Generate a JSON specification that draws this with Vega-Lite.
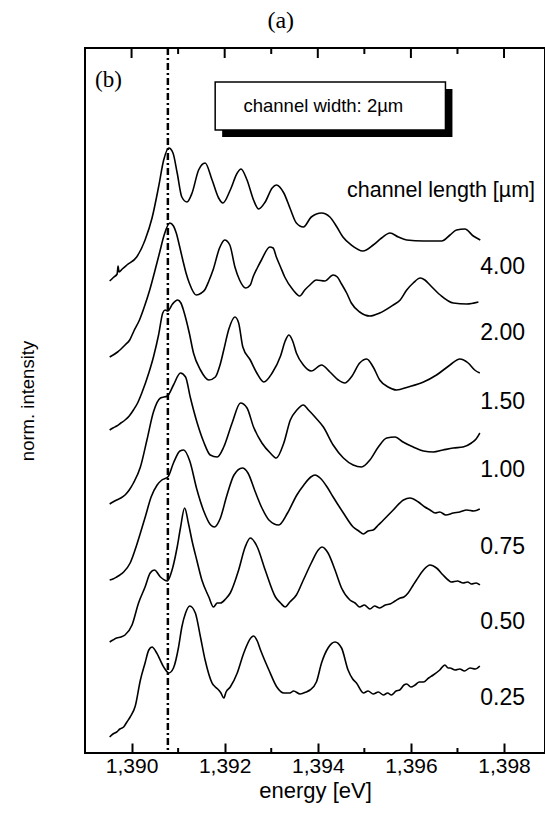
{
"$schema": "https://vega.github.io/schema/vega-lite/v6.json",
"width": 460, "height": 705,
"autosize": {"type": "none"},
"padding": {"left": 85, "top": 48, "right": 0, "bottom": 69},
"config": {"view": {"stroke": "black", "strokeWidth": 2}, "font": "Liberation Sans", "axis": {"grid": false}},
"resolve": {"scale": {"x": "independent"}, "axis": {"x": "independent", "y": "independent"}},
"datasets": {
"one": [{}],
"majorTicks": [{"energy": 1390}, {"energy": 1392}, {"energy": 1394}, {"energy": 1396}, {"energy": 1398}],
"minorTicks": [{"energy": 1391}, {"energy": 1393}, {"energy": 1395}, {"energy": 1397}],
"labels": [
{"label": "4.00", "intensity": 486},
{"label": "2.00", "intensity": 420},
{"label": "1.50", "intensity": 351},
{"label": "1.00", "intensity": 283},
{"label": "0.75", "intensity": 206},
{"label": "0.50", "intensity": 131},
{"label": "0.25", "intensity": 55}
],
"spectra": [
{"length":"4.00","energy":1389.53,"intensity":472},
{"length":"4.00","energy":1389.62,"intensity":476},
{"length":"4.00","energy":1389.69,"intensity":479},
{"length":"4.00","energy":1389.71,"intensity":487},
{"length":"4.00","energy":1389.73,"intensity":481},
{"length":"4.00","energy":1389.80,"intensity":484},
{"length":"4.00","energy":1389.90,"intensity":488},
{"length":"4.00","energy":1390.11,"intensity":496},
{"length":"4.00","energy":1390.29,"intensity":513},
{"length":"4.00","energy":1390.44,"intensity":535},
{"length":"4.00","energy":1390.58,"intensity":566},
{"length":"4.00","energy":1390.69,"intensity":593},
{"length":"4.00","energy":1390.80,"intensity":605},
{"length":"4.00","energy":1390.89,"intensity":600},
{"length":"4.00","energy":1390.98,"intensity":580},
{"length":"4.00","energy":1391.08,"intensity":556},
{"length":"4.00","energy":1391.19,"intensity":551},
{"length":"4.00","energy":1391.30,"intensity":560},
{"length":"4.00","energy":1391.44,"intensity":583},
{"length":"4.00","energy":1391.58,"intensity":590},
{"length":"4.00","energy":1391.73,"intensity":573},
{"length":"4.00","energy":1391.87,"intensity":555},
{"length":"4.00","energy":1391.96,"intensity":550},
{"length":"4.00","energy":1392.12,"intensity":563},
{"length":"4.00","energy":1392.27,"intensity":580},
{"length":"4.00","energy":1392.35,"intensity":584},
{"length":"4.00","energy":1392.48,"intensity":573},
{"length":"4.00","energy":1392.62,"intensity":553},
{"length":"4.00","energy":1392.73,"intensity":544},
{"length":"4.00","energy":1392.87,"intensity":551},
{"length":"4.00","energy":1393.02,"intensity":565},
{"length":"4.00","energy":1393.11,"intensity":568},
{"length":"4.00","energy":1393.27,"intensity":560},
{"length":"4.00","energy":1393.41,"intensity":544},
{"length":"4.00","energy":1393.54,"intensity":530},
{"length":"4.00","energy":1393.69,"intensity":526},
{"length":"4.00","energy":1393.86,"intensity":536},
{"length":"4.00","energy":1394.08,"intensity":540},
{"length":"4.00","energy":1394.26,"intensity":536},
{"length":"4.00","energy":1394.41,"intensity":526},
{"length":"4.00","energy":1394.54,"intensity":516},
{"length":"4.00","energy":1394.72,"intensity":508},
{"length":"4.00","energy":1394.97,"intensity":502},
{"length":"4.00","energy":1395.19,"intensity":508},
{"length":"4.00","energy":1395.37,"intensity":515},
{"length":"4.00","energy":1395.55,"intensity":520},
{"length":"4.00","energy":1395.73,"intensity":516},
{"length":"4.00","energy":1395.91,"intensity":513},
{"length":"4.00","energy":1396.27,"intensity":512},
{"length":"4.00","energy":1396.66,"intensity":512},
{"length":"4.00","energy":1396.84,"intensity":518},
{"length":"4.00","energy":1396.98,"intensity":523},
{"length":"4.00","energy":1397.16,"intensity":524},
{"length":"4.00","energy":1397.34,"intensity":517},
{"length":"4.00","energy":1397.49,"intensity":513},
{"length":"2.00","energy":1389.53,"intensity":396},
{"length":"2.00","energy":1389.70,"intensity":401},
{"length":"2.00","energy":1389.86,"intensity":408},
{"length":"2.00","energy":1389.96,"intensity":413},
{"length":"2.00","energy":1390.05,"intensity":422},
{"length":"2.00","energy":1390.17,"intensity":433},
{"length":"2.00","energy":1390.28,"intensity":447},
{"length":"2.00","energy":1390.39,"intensity":463},
{"length":"2.00","energy":1390.50,"intensity":482},
{"length":"2.00","energy":1390.60,"intensity":500},
{"length":"2.00","energy":1390.70,"intensity":518},
{"length":"2.00","energy":1390.82,"intensity":530},
{"length":"2.00","energy":1390.90,"intensity":527},
{"length":"2.00","energy":1390.96,"intensity":520},
{"length":"2.00","energy":1391.03,"intensity":507},
{"length":"2.00","energy":1391.10,"intensity":493},
{"length":"2.00","energy":1391.17,"intensity":480},
{"length":"2.00","energy":1391.24,"intensity":470},
{"length":"2.00","energy":1391.39,"intensity":458},
{"length":"2.00","energy":1391.50,"intensity":460},
{"length":"2.00","energy":1391.57,"intensity":463},
{"length":"2.00","energy":1391.66,"intensity":472},
{"length":"2.00","energy":1391.75,"intensity":483},
{"length":"2.00","energy":1391.89,"intensity":505},
{"length":"2.00","energy":1392.00,"intensity":513},
{"length":"2.00","energy":1392.11,"intensity":508},
{"length":"2.00","energy":1392.22,"intensity":486},
{"length":"2.00","energy":1392.32,"intensity":473},
{"length":"2.00","energy":1392.45,"intensity":465},
{"length":"2.00","energy":1392.55,"intensity":468},
{"length":"2.00","energy":1392.61,"intensity":476},
{"length":"2.00","energy":1392.70,"intensity":485},
{"length":"2.00","energy":1392.79,"intensity":493},
{"length":"2.00","energy":1392.97,"intensity":506},
{"length":"2.00","energy":1393.04,"intensity":505},
{"length":"2.00","energy":1393.11,"intensity":496},
{"length":"2.00","energy":1393.20,"intensity":486},
{"length":"2.00","energy":1393.29,"intensity":476},
{"length":"2.00","energy":1393.47,"intensity":463},
{"length":"2.00","energy":1393.61,"intensity":457},
{"length":"2.00","energy":1393.72,"intensity":463},
{"length":"2.00","energy":1393.83,"intensity":468},
{"length":"2.00","energy":1393.97,"intensity":473},
{"length":"2.00","energy":1394.15,"intensity":472},
{"length":"2.00","energy":1394.33,"intensity":478},
{"length":"2.00","energy":1394.42,"intensity":476},
{"length":"2.00","energy":1394.51,"intensity":469},
{"length":"2.00","energy":1394.62,"intensity":460},
{"length":"2.00","energy":1394.72,"intensity":450},
{"length":"2.00","energy":1394.90,"intensity":441},
{"length":"2.00","energy":1395.12,"intensity":437},
{"length":"2.00","energy":1395.33,"intensity":440},
{"length":"2.00","energy":1395.62,"intensity":448},
{"length":"2.00","energy":1395.77,"intensity":453},
{"length":"2.00","energy":1395.91,"intensity":463},
{"length":"2.00","energy":1396.05,"intensity":470},
{"length":"2.00","energy":1396.20,"intensity":475},
{"length":"2.00","energy":1396.30,"intensity":473},
{"length":"2.00","energy":1396.41,"intensity":468},
{"length":"2.00","energy":1396.63,"intensity":458},
{"length":"2.00","energy":1396.91,"intensity":450},
{"length":"2.00","energy":1397.20,"intensity":449},
{"length":"2.00","energy":1397.45,"intensity":451},
{"length":"1.50","energy":1389.53,"intensity":323},
{"length":"1.50","energy":1389.60,"intensity":325},
{"length":"1.50","energy":1389.68,"intensity":327},
{"length":"1.50","energy":1389.77,"intensity":330},
{"length":"1.50","energy":1389.86,"intensity":333},
{"length":"1.50","energy":1389.95,"intensity":337},
{"length":"1.50","energy":1390.04,"intensity":343},
{"length":"1.50","energy":1390.13,"intensity":350},
{"length":"1.50","energy":1390.22,"intensity":360},
{"length":"1.50","energy":1390.37,"intensity":380},
{"length":"1.50","energy":1390.47,"intensity":396},
{"length":"1.50","energy":1390.58,"intensity":418},
{"length":"1.50","energy":1390.67,"intensity":440},
{"length":"1.50","energy":1390.72,"intensity":443},
{"length":"1.50","energy":1390.78,"intensity":442},
{"length":"1.50","energy":1390.88,"intensity":449},
{"length":"1.50","energy":1390.99,"intensity":453},
{"length":"1.50","energy":1391.06,"intensity":450},
{"length":"1.50","energy":1391.12,"intensity":442},
{"length":"1.50","energy":1391.24,"intensity":420},
{"length":"1.50","energy":1391.33,"intensity":400},
{"length":"1.50","energy":1391.48,"intensity":383},
{"length":"1.50","energy":1391.66,"intensity":373},
{"length":"1.50","energy":1391.80,"intensity":376},
{"length":"1.50","energy":1391.90,"intensity":388},
{"length":"1.50","energy":1391.98,"intensity":403},
{"length":"1.50","energy":1392.09,"intensity":424},
{"length":"1.50","energy":1392.22,"intensity":436},
{"length":"1.50","energy":1392.30,"intensity":430},
{"length":"1.50","energy":1392.39,"intensity":406},
{"length":"1.50","energy":1392.55,"intensity":393},
{"length":"1.50","energy":1392.69,"intensity":380},
{"length":"1.50","energy":1392.84,"intensity":371},
{"length":"1.50","energy":1393.02,"intensity":380},
{"length":"1.50","energy":1393.20,"intensity":397},
{"length":"1.50","energy":1393.30,"intensity":412},
{"length":"1.50","energy":1393.38,"intensity":418},
{"length":"1.50","energy":1393.46,"intensity":412},
{"length":"1.50","energy":1393.54,"intensity":400},
{"length":"1.50","energy":1393.69,"intensity":388},
{"length":"1.50","energy":1393.86,"intensity":382},
{"length":"1.50","energy":1394.08,"intensity":388},
{"length":"1.50","energy":1394.26,"intensity":381},
{"length":"1.50","energy":1394.44,"intensity":373},
{"length":"1.50","energy":1394.58,"intensity":370},
{"length":"1.50","energy":1394.72,"intensity":376},
{"length":"1.50","energy":1394.90,"intensity":390},
{"length":"1.50","energy":1395.05,"intensity":394},
{"length":"1.50","energy":1395.19,"intensity":386},
{"length":"1.50","energy":1395.33,"intensity":373},
{"length":"1.50","energy":1395.51,"intensity":366},
{"length":"1.50","energy":1395.69,"intensity":363},
{"length":"1.50","energy":1395.94,"intensity":366},
{"length":"1.50","energy":1396.27,"intensity":371},
{"length":"1.50","energy":1396.55,"intensity":378},
{"length":"1.50","energy":1396.84,"intensity":388},
{"length":"1.50","energy":1397.05,"intensity":394},
{"length":"1.50","energy":1397.23,"intensity":390},
{"length":"1.50","energy":1397.37,"intensity":383},
{"length":"1.50","energy":1397.48,"intensity":380},
{"length":"1.00","energy":1389.53,"intensity":249},
{"length":"1.00","energy":1389.60,"intensity":251},
{"length":"1.00","energy":1389.68,"intensity":253},
{"length":"1.00","energy":1389.77,"intensity":255},
{"length":"1.00","energy":1389.86,"intensity":258},
{"length":"1.00","energy":1389.95,"intensity":263},
{"length":"1.00","energy":1390.04,"intensity":270},
{"length":"1.00","energy":1390.19,"intensity":286},
{"length":"1.00","energy":1390.33,"intensity":313},
{"length":"1.00","energy":1390.47,"intensity":341},
{"length":"1.00","energy":1390.62,"intensity":355},
{"length":"1.00","energy":1390.77,"intensity":357},
{"length":"1.00","energy":1390.90,"intensity":368},
{"length":"1.00","energy":1391.05,"intensity":380},
{"length":"1.00","energy":1391.16,"intensity":376},
{"length":"1.00","energy":1391.26,"intensity":356},
{"length":"1.00","energy":1391.41,"intensity":330},
{"length":"1.00","energy":1391.55,"intensity":311},
{"length":"1.00","energy":1391.69,"intensity":298},
{"length":"1.00","energy":1391.84,"intensity":296},
{"length":"1.00","energy":1391.98,"intensity":306},
{"length":"1.00","energy":1392.16,"intensity":330},
{"length":"1.00","energy":1392.34,"intensity":350},
{"length":"1.00","energy":1392.48,"intensity":345},
{"length":"1.00","energy":1392.62,"intensity":326},
{"length":"1.00","energy":1392.80,"intensity":310},
{"length":"1.00","energy":1392.98,"intensity":300},
{"length":"1.00","energy":1393.11,"intensity":295},
{"length":"1.00","energy":1393.27,"intensity":310},
{"length":"1.00","energy":1393.41,"intensity":333},
{"length":"1.00","energy":1393.55,"intensity":343},
{"length":"1.00","energy":1393.69,"intensity":348},
{"length":"1.00","energy":1393.80,"intensity":343},
{"length":"1.00","energy":1393.94,"intensity":336},
{"length":"1.00","energy":1394.12,"intensity":326},
{"length":"1.00","energy":1394.33,"intensity":308},
{"length":"1.00","energy":1394.55,"intensity":295},
{"length":"1.00","energy":1394.76,"intensity":288},
{"length":"1.00","energy":1394.94,"intensity":286},
{"length":"1.00","energy":1395.12,"intensity":293},
{"length":"1.00","energy":1395.30,"intensity":306},
{"length":"1.00","energy":1395.48,"intensity":315},
{"length":"1.00","energy":1395.66,"intensity":316},
{"length":"1.00","energy":1395.83,"intensity":311},
{"length":"1.00","energy":1396.05,"intensity":306},
{"length":"1.00","energy":1396.27,"intensity":302},
{"length":"1.00","energy":1396.48,"intensity":301},
{"length":"1.00","energy":1396.69,"intensity":303},
{"length":"1.00","energy":1396.91,"intensity":305},
{"length":"1.00","energy":1397.12,"intensity":306},
{"length":"1.00","energy":1397.30,"intensity":310},
{"length":"1.00","energy":1397.40,"intensity":314},
{"length":"1.00","energy":1397.48,"intensity":320},
{"length":"0.75","energy":1389.53,"intensity":173},
{"length":"0.75","energy":1389.60,"intensity":174},
{"length":"0.75","energy":1389.68,"intensity":176},
{"length":"0.75","energy":1389.75,"intensity":178},
{"length":"0.75","energy":1389.83,"intensity":181},
{"length":"0.75","energy":1389.97,"intensity":190},
{"length":"0.75","energy":1390.11,"intensity":208},
{"length":"0.75","energy":1390.19,"intensity":220},
{"length":"0.75","energy":1390.30,"intensity":237},
{"length":"0.75","energy":1390.42,"intensity":256},
{"length":"0.75","energy":1390.55,"intensity":268},
{"length":"0.75","energy":1390.65,"intensity":273},
{"length":"0.75","energy":1390.78,"intensity":276},
{"length":"0.75","energy":1390.90,"intensity":290},
{"length":"0.75","energy":1391.04,"intensity":302},
{"length":"0.75","energy":1391.12,"intensity":303},
{"length":"0.75","energy":1391.25,"intensity":292},
{"length":"0.75","energy":1391.40,"intensity":264},
{"length":"0.75","energy":1391.55,"intensity":242},
{"length":"0.75","energy":1391.70,"intensity":228},
{"length":"0.75","energy":1391.78,"intensity":226},
{"length":"0.75","energy":1391.90,"intensity":234},
{"length":"0.75","energy":1392.05,"intensity":258},
{"length":"0.75","energy":1392.20,"intensity":278},
{"length":"0.75","energy":1392.38,"intensity":285},
{"length":"0.75","energy":1392.50,"intensity":280},
{"length":"0.75","energy":1392.65,"intensity":262},
{"length":"0.75","energy":1392.80,"intensity":245},
{"length":"0.75","energy":1392.95,"intensity":233},
{"length":"0.75","energy":1393.16,"intensity":228},
{"length":"0.75","energy":1393.35,"intensity":240},
{"length":"0.75","energy":1393.55,"intensity":258},
{"length":"0.75","energy":1393.70,"intensity":268},
{"length":"0.75","energy":1393.85,"intensity":276},
{"length":"0.75","energy":1393.94,"intensity":278},
{"length":"0.75","energy":1394.05,"intensity":275},
{"length":"0.75","energy":1394.20,"intensity":266},
{"length":"0.75","energy":1394.33,"intensity":256},
{"length":"0.75","energy":1394.55,"intensity":240},
{"length":"0.75","energy":1394.76,"intensity":226},
{"length":"0.75","energy":1394.88,"intensity":222},
{"length":"0.75","energy":1394.98,"intensity":219},
{"length":"0.75","energy":1395.08,"intensity":222},
{"length":"0.75","energy":1395.19,"intensity":223},
{"length":"0.75","energy":1395.30,"intensity":228},
{"length":"0.75","energy":1395.41,"intensity":233},
{"length":"0.75","energy":1395.62,"intensity":243},
{"length":"0.75","energy":1395.84,"intensity":253},
{"length":"0.75","energy":1395.98,"intensity":255},
{"length":"0.75","energy":1396.16,"intensity":251},
{"length":"0.75","energy":1396.30,"intensity":246},
{"length":"0.75","energy":1396.41,"intensity":243},
{"length":"0.75","energy":1396.52,"intensity":240},
{"length":"0.75","energy":1396.62,"intensity":241},
{"length":"0.75","energy":1396.75,"intensity":238},
{"length":"0.75","energy":1396.91,"intensity":240},
{"length":"0.75","energy":1397.05,"intensity":241},
{"length":"0.75","energy":1397.20,"intensity":243},
{"length":"0.75","energy":1397.35,"intensity":242},
{"length":"0.75","energy":1397.48,"intensity":244},
{"length":"0.50","energy":1389.53,"intensity":111},
{"length":"0.50","energy":1389.60,"intensity":113},
{"length":"0.50","energy":1389.68,"intensity":115},
{"length":"0.50","energy":1389.77,"intensity":116},
{"length":"0.50","energy":1389.86,"intensity":118},
{"length":"0.50","energy":1390.01,"intensity":128},
{"length":"0.50","energy":1390.15,"intensity":150},
{"length":"0.50","energy":1390.29,"intensity":166},
{"length":"0.50","energy":1390.40,"intensity":180},
{"length":"0.50","energy":1390.49,"intensity":183},
{"length":"0.50","energy":1390.62,"intensity":176},
{"length":"0.50","energy":1390.77,"intensity":172},
{"length":"0.50","energy":1390.87,"intensity":183},
{"length":"0.50","energy":1390.98,"intensity":206},
{"length":"0.50","energy":1391.05,"intensity":225},
{"length":"0.50","energy":1391.14,"intensity":245},
{"length":"0.50","energy":1391.22,"intensity":230},
{"length":"0.50","energy":1391.30,"intensity":212},
{"length":"0.50","energy":1391.40,"intensity":193},
{"length":"0.50","energy":1391.51,"intensity":173},
{"length":"0.50","energy":1391.66,"intensity":156},
{"length":"0.50","energy":1391.76,"intensity":146},
{"length":"0.50","energy":1391.84,"intensity":150},
{"length":"0.50","energy":1391.91,"intensity":150},
{"length":"0.50","energy":1392.02,"intensity":154},
{"length":"0.50","energy":1392.12,"intensity":160},
{"length":"0.50","energy":1392.30,"intensity":183},
{"length":"0.50","energy":1392.44,"intensity":206},
{"length":"0.50","energy":1392.55,"intensity":215},
{"length":"0.50","energy":1392.70,"intensity":206},
{"length":"0.50","energy":1392.87,"intensity":183},
{"length":"0.50","energy":1393.09,"intensity":156},
{"length":"0.50","energy":1393.20,"intensity":150},
{"length":"0.50","energy":1393.30,"intensity":146},
{"length":"0.50","energy":1393.40,"intensity":151},
{"length":"0.50","energy":1393.54,"intensity":158},
{"length":"0.50","energy":1393.69,"intensity":173},
{"length":"0.50","energy":1393.86,"intensity":190},
{"length":"0.50","energy":1394.01,"intensity":203},
{"length":"0.50","energy":1394.09,"intensity":206},
{"length":"0.50","energy":1394.22,"intensity":200},
{"length":"0.50","energy":1394.37,"intensity":183},
{"length":"0.50","energy":1394.51,"intensity":165},
{"length":"0.50","energy":1394.69,"intensity":153},
{"length":"0.50","energy":1394.80,"intensity":150},
{"length":"0.50","energy":1394.90,"intensity":146},
{"length":"0.50","energy":1395.00,"intensity":148},
{"length":"0.50","energy":1395.12,"intensity":144},
{"length":"0.50","energy":1395.22,"intensity":147},
{"length":"0.50","energy":1395.33,"intensity":145},
{"length":"0.50","energy":1395.45,"intensity":148},
{"length":"0.50","energy":1395.55,"intensity":149},
{"length":"0.50","energy":1395.66,"intensity":152},
{"length":"0.50","energy":1395.77,"intensity":155},
{"length":"0.50","energy":1395.85,"intensity":156},
{"length":"0.50","energy":1395.94,"intensity":160},
{"length":"0.50","energy":1396.05,"intensity":168},
{"length":"0.50","energy":1396.12,"intensity":173},
{"length":"0.50","energy":1396.27,"intensity":183},
{"length":"0.50","energy":1396.41,"intensity":188},
{"length":"0.50","energy":1396.55,"intensity":185},
{"length":"0.50","energy":1396.69,"intensity":178},
{"length":"0.50","energy":1396.80,"intensity":173},
{"length":"0.50","energy":1396.87,"intensity":171},
{"length":"0.50","energy":1397.00,"intensity":172},
{"length":"0.50","energy":1397.12,"intensity":170},
{"length":"0.50","energy":1397.22,"intensity":171},
{"length":"0.50","energy":1397.30,"intensity":169},
{"length":"0.50","energy":1397.40,"intensity":170},
{"length":"0.50","energy":1397.48,"intensity":168},
{"length":"0.25","energy":1389.53,"intensity":16},
{"length":"0.25","energy":1389.60,"intensity":19},
{"length":"0.25","energy":1389.68,"intensity":21},
{"length":"0.25","energy":1389.75,"intensity":24},
{"length":"0.25","energy":1389.83,"intensity":26},
{"length":"0.25","energy":1389.90,"intensity":31},
{"length":"0.25","energy":1389.97,"intensity":36},
{"length":"0.25","energy":1390.08,"intensity":47},
{"length":"0.25","energy":1390.19,"intensity":73},
{"length":"0.25","energy":1390.29,"intensity":90},
{"length":"0.25","energy":1390.37,"intensity":103},
{"length":"0.25","energy":1390.44,"intensity":106},
{"length":"0.25","energy":1390.54,"intensity":100},
{"length":"0.25","energy":1390.69,"intensity":86},
{"length":"0.25","energy":1390.80,"intensity":80},
{"length":"0.25","energy":1390.90,"intensity":85},
{"length":"0.25","energy":1391.01,"intensity":106},
{"length":"0.25","energy":1391.08,"intensity":126},
{"length":"0.25","energy":1391.16,"intensity":140},
{"length":"0.25","energy":1391.25,"intensity":147},
{"length":"0.25","energy":1391.37,"intensity":140},
{"length":"0.25","energy":1391.48,"intensity":116},
{"length":"0.25","energy":1391.58,"intensity":93},
{"length":"0.25","energy":1391.73,"intensity":70},
{"length":"0.25","energy":1391.80,"intensity":66},
{"length":"0.25","energy":1391.87,"intensity":63},
{"length":"0.25","energy":1391.92,"intensity":60},
{"length":"0.25","energy":1391.98,"intensity":55},
{"length":"0.25","energy":1392.03,"intensity":61},
{"length":"0.25","energy":1392.12,"intensity":66},
{"length":"0.25","energy":1392.27,"intensity":80},
{"length":"0.25","energy":1392.41,"intensity":100},
{"length":"0.25","energy":1392.56,"intensity":115},
{"length":"0.25","energy":1392.62,"intensity":117},
{"length":"0.25","energy":1392.70,"intensity":112},
{"length":"0.25","energy":1392.77,"intensity":103},
{"length":"0.25","energy":1392.95,"intensity":83},
{"length":"0.25","energy":1393.12,"intensity":66},
{"length":"0.25","energy":1393.27,"intensity":60},
{"length":"0.25","energy":1393.40,"intensity":60},
{"length":"0.25","energy":1393.48,"intensity":62},
{"length":"0.25","energy":1393.62,"intensity":59},
{"length":"0.25","energy":1393.75,"intensity":61},
{"length":"0.25","energy":1393.83,"intensity":63},
{"length":"0.25","energy":1393.97,"intensity":71},
{"length":"0.25","energy":1394.08,"intensity":90},
{"length":"0.25","energy":1394.22,"intensity":105},
{"length":"0.25","energy":1394.37,"intensity":111},
{"length":"0.25","energy":1394.51,"intensity":105},
{"length":"0.25","energy":1394.65,"intensity":83},
{"length":"0.25","energy":1394.75,"intensity":74},
{"length":"0.25","energy":1394.83,"intensity":70},
{"length":"0.25","energy":1394.98,"intensity":60},
{"length":"0.25","energy":1395.08,"intensity":62},
{"length":"0.25","energy":1395.19,"intensity":59},
{"length":"0.25","energy":1395.30,"intensity":61},
{"length":"0.25","energy":1395.41,"intensity":58},
{"length":"0.25","energy":1395.50,"intensity":60},
{"length":"0.25","energy":1395.58,"intensity":58},
{"length":"0.25","energy":1395.68,"intensity":62},
{"length":"0.25","energy":1395.76,"intensity":63},
{"length":"0.25","energy":1395.85,"intensity":68},
{"length":"0.25","energy":1395.91,"intensity":69},
{"length":"0.25","energy":1396.00,"intensity":66},
{"length":"0.25","energy":1396.09,"intensity":68},
{"length":"0.25","energy":1396.18,"intensity":71},
{"length":"0.25","energy":1396.27,"intensity":71},
{"length":"0.25","energy":1396.38,"intensity":75},
{"length":"0.25","energy":1396.48,"intensity":78},
{"length":"0.25","energy":1396.62,"intensity":83},
{"length":"0.25","energy":1396.73,"intensity":88},
{"length":"0.25","energy":1396.80,"intensity":85},
{"length":"0.25","energy":1396.84,"intensity":85},
{"length":"0.25","energy":1396.95,"intensity":83},
{"length":"0.25","energy":1397.05,"intensity":84},
{"length":"0.25","energy":1397.15,"intensity":82},
{"length":"0.25","energy":1397.27,"intensity":85},
{"length":"0.25","energy":1397.38,"intensity":84},
{"length":"0.25","energy":1397.48,"intensity":87}
]
},
"layer": [
{
"resolve": {"axis": {"y": "independent"}},
"layer": [
{
"data": {"name": "spectra"},
"mark": {"type": "line", "color": "black", "strokeWidth": 1.6, "interpolate": "monotone"},
"encoding": {
"x": {"field": "energy", "type": "quantitative", "scale": {"domain": [1389, 1398.88], "nice": false, "zero": false}, "axis": null},
"y": {"field": "intensity", "type": "quantitative", "scale": {"domain": [0, 705], "nice": false, "zero": false},
"axis": {"orient": "left", "title": "norm. intensity", "domain": false, "ticks": false, "labels": false, "grid": false, "titleFont": "Liberation Sans", "titleFontSize": 18.5, "titleFontWeight": "normal", "titleColor": "black", "titlePadding": 58, "titleBaseline": "middle", "titleAngle": -90}},
"detail": {"field": "length"}
}
},
{
"data": {"name": "majorTicks"},
"mark": {"type": "rule", "color": "black", "strokeWidth": 2},
"encoding": {
"x": {"field": "energy", "type": "quantitative", "axis": null},
"y": {"datum": 705, "type": "quantitative", "axis": null},
"y2": {"datum": 695}
}
},
{
"data": {"name": "minorTicks"},
"mark": {"type": "rule", "color": "black", "strokeWidth": 2},
"encoding": {
"x": {"field": "energy", "type": "quantitative", "axis": null},
"y": {"datum": 705, "type": "quantitative", "axis": null},
"y2": {"datum": 699}
}
},
{
"data": {"name": "minorTicks"},
"mark": {"type": "rule", "color": "black", "strokeWidth": 2},
"encoding": {
"x": {"field": "energy", "type": "quantitative", "axis": null},
"y": {"datum": 0, "type": "quantitative", "axis": null},
"y2": {"datum": 5}
}
},
{
"data": {"name": "one"},
"mark": {"type": "rule", "color": "black", "strokeWidth": 2.5, "strokeDash": [7, 3, 2, 3]},
"encoding": {
"x": {"datum": 1390.78, "type": "quantitative", "axis": null}
}
},
{
"data": {"name": "one"},
"mark": {"type": "rect", "fill": "black"},
"encoding": {
"x": {"datum": 1391.946, "type": "quantitative", "axis": null},
"x2": {"datum": 1396.892},
"y": {"datum": 664, "type": "quantitative", "axis": null},
"y2": {"datum": 616}
}
},
{
"data": {"name": "one"},
"mark": {"type": "rect", "fill": "white", "stroke": "black", "strokeWidth": 1.5},
"encoding": {
"x": {"datum": 1391.796, "type": "quantitative", "axis": null},
"x2": {"datum": 1396.742},
"y": {"datum": 671, "type": "quantitative", "axis": null},
"y2": {"datum": 623}
}
},
{
"data": {"name": "one"},
"mark": {"type": "text", "font": "Liberation Sans", "fontSize": 18.5, "align": "center", "baseline": "middle", "color": "black"},
"encoding": {
"x": {"datum": 1394.12, "type": "quantitative", "axis": null},
"y": {"datum": 647.5, "type": "quantitative", "axis": null},
"text": {"value": "channel width: 2µm"}
}
},
{
"data": {"name": "one"},
"mark": {"type": "text", "font": "Liberation Sans", "fontSize": 21.5, "align": "right", "baseline": "middle", "color": "black"},
"encoding": {
"x": {"datum": 1398.667, "type": "quantitative", "axis": null},
"y": {"datum": 562, "type": "quantitative", "axis": null},
"text": {"value": "channel length [µm]"}
}
},
{
"data": {"name": "labels"},
"mark": {"type": "text", "font": "Liberation Sans", "fontSize": 23, "align": "right", "baseline": "middle", "color": "black"},
"encoding": {
"x": {"datum": 1398.452, "type": "quantitative", "axis": null},
"y": {"field": "intensity", "type": "quantitative", "axis": null},
"text": {"field": "label"}
}
},
{
"data": {"name": "one"},
"mark": {"type": "text", "font": "Liberation Serif", "fontSize": 23, "align": "center", "baseline": "middle", "color": "black"},
"encoding": {
"x": {"datum": 1389.505, "type": "quantitative", "axis": null},
"y": {"datum": 673, "type": "quantitative", "axis": null},
"text": {"value": "(b)"}
}
},
{
"data": {"name": "one"},
"mark": {"type": "text", "font": "Liberation Serif", "fontSize": 24, "align": "center", "baseline": "middle", "color": "black"},
"encoding": {
"x": {"datum": 1393.204, "type": "quantitative", "axis": null},
"y": {"datum": 732, "type": "quantitative", "axis": null},
"text": {"value": "(a)"}
}
}
]
},
{
"data": {"name": "spectra"},
"mark": {"type": "line", "strokeOpacity": 0},
"encoding": {
"x": {"field": "energy", "type": "quantitative", "scale": {"domain": [1389, 1398.88], "nice": false, "zero": false},
"axis": {"orient": "bottom", "values": [1390, 1392, 1394, 1396, 1398], "format": ",d", "tickSize": -10, "tickWidth": 2, "tickColor": "black", "domain": false, "grid": false, "labelFontSize": 21, "labelColor": "black", "labelFont": "Liberation Sans", "labelPadding": 12, "labelFlush": false, "title": "energy [eV]", "titleFont": "Liberation Sans", "titleFontSize": 22, "titleFontWeight": "normal", "titleColor": "black", "titleY": 37, "titleBaseline": "middle"}},
"y": {"field": "intensity", "type": "quantitative", "scale": {"domain": [0, 705], "nice": false, "zero": false}, "axis": null},
"detail": {"field": "length"}
}
}
]
}
